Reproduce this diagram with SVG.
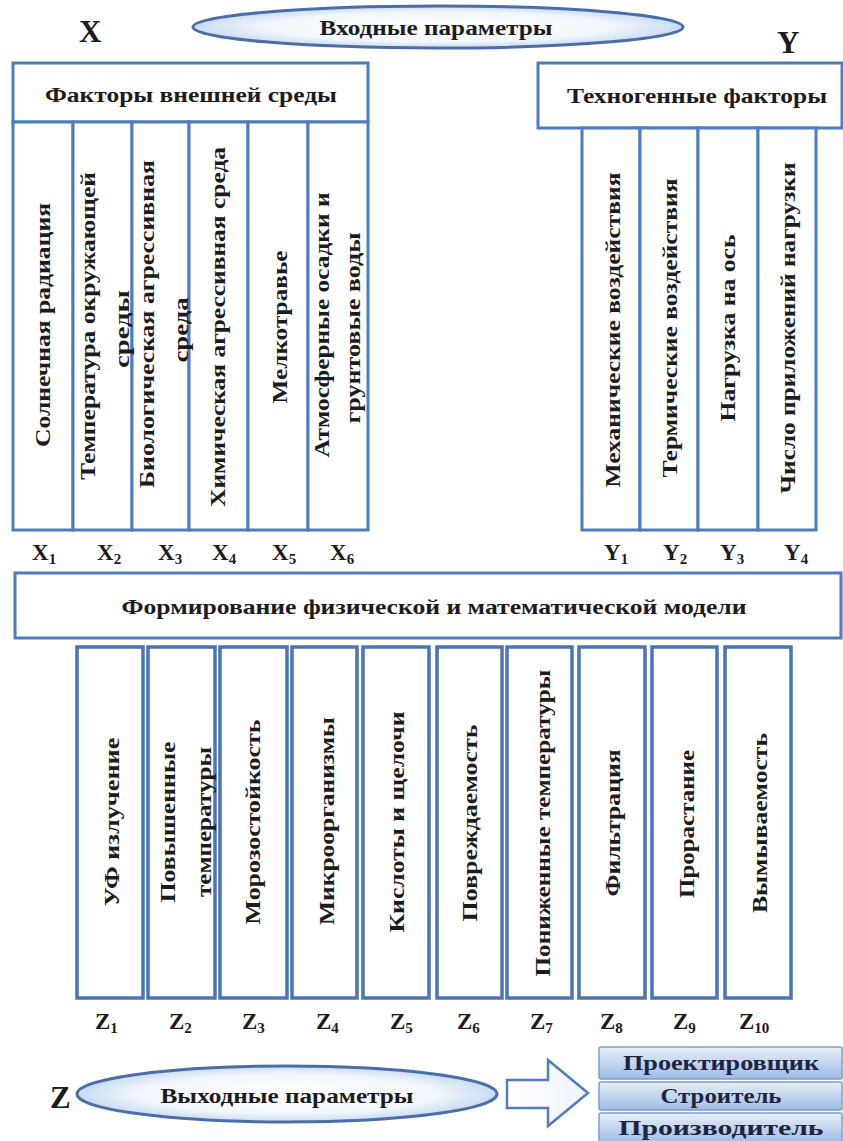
<svg xmlns="http://www.w3.org/2000/svg" width="843" height="1141" viewBox="0 0 843 1141">
<defs>
<style>
.box{fill:#ffffff;stroke:#4f7bbf;stroke-width:3}
.zb{fill:#ffffff;stroke:#4a74b4;stroke-width:3.5}
.t{font-family:"Liberation Serif","Times New Roman","DejaVu Serif",serif;font-weight:bold;fill:#1c1c1c}
.lat{font-family:"Liberation Serif","Times New Roman",serif;font-weight:bold;fill:#1c1c1c}
.v{font-size:20px;text-anchor:middle}
.h{font-size:21px;text-anchor:middle}
.lbl{font-size:23px}
.sub{font-size:15px}
.big{font-size:31px}
.ell{fill:url(#eg);stroke:#4a6fa8;stroke-width:3}
.role{fill:url(#bg);stroke:#7e9dcb;stroke-width:1.5}
.rt{font-size:21px;text-anchor:middle;fill:#1d2540}
</style>
<radialGradient id="eg" cx="50%" cy="50%" r="50%">
<stop offset="0" stop-color="#ffffff"/>
<stop offset="0.7" stop-color="#f2f7fd"/>
<stop offset="1" stop-color="#c9dbf2"/>
</radialGradient>
<linearGradient id="bg" x1="0" y1="0" x2="0" y2="1">
<stop offset="0" stop-color="#e8eff9"/>
<stop offset="1" stop-color="#9fbbe4"/>
</linearGradient>
<linearGradient id="ag" x1="0" y1="0" x2="1" y2="0">
<stop offset="0" stop-color="#ffffff"/>
<stop offset="1" stop-color="#eef3fb"/>
</linearGradient>
</defs>
<rect width="843" height="1141" fill="#ffffff"/>

<!-- Top: input parameters -->
<g id="input-params">
<text class="lat big" x="79" y="42">X</text>
<text class="lat big" x="777" y="53">Y</text>
<ellipse class="ell" cx="438" cy="27" rx="245" ry="21"/>
<text class="t" x="436" y="35" font-size="20" text-anchor="middle" textLength="233" lengthAdjust="spacingAndGlyphs">Входные параметры</text>
</g>

<!-- Environmental factors -->
<g id="env-factors">
<rect class="box" x="13" y="63" width="355" height="59"/>
<text class="t h" x="191" y="102" textLength="292" lengthAdjust="spacingAndGlyphs">Факторы внешней среды</text>
<rect class="box" x="13" y="122" width="60" height="408"/>
<rect class="box" x="73" y="122" width="59" height="408"/>
<rect class="box" x="132" y="122" width="57" height="408"/>
<rect class="box" x="189" y="122" width="59" height="408"/>
<rect class="box" x="248" y="122" width="60" height="408"/>
<rect class="box" x="308" y="122" width="60" height="408"/>
<g class="t v">
<text transform="translate(43,325) rotate(-90)" y="7" textLength="244" lengthAdjust="spacingAndGlyphs">Солнечная радиация</text>
<text transform="translate(88,326) rotate(-90)" y="7" textLength="308" lengthAdjust="spacingAndGlyphs">Температура  окружающей</text>
<text transform="translate(122,329) rotate(-90)" y="7" textLength="78" lengthAdjust="spacingAndGlyphs">среды</text>
<text transform="translate(147,324) rotate(-90)" y="7" textLength="328" lengthAdjust="spacingAndGlyphs">Биологическая агрессивная</text>
<text transform="translate(181,330) rotate(-90)" y="7" textLength="65" lengthAdjust="spacingAndGlyphs">среда</text>
<text transform="translate(218,327) rotate(-90)" y="7" textLength="360" lengthAdjust="spacingAndGlyphs">Химическая агрессивная среда</text>
<text transform="translate(280,327) rotate(-90)" y="7" textLength="153" lengthAdjust="spacingAndGlyphs">Мелкотравье</text>
<text transform="translate(322,325) rotate(-90)" y="7" textLength="265" lengthAdjust="spacingAndGlyphs">Атмосферные осадки и</text>
<text transform="translate(353,328) rotate(-90)" y="7" textLength="191" lengthAdjust="spacingAndGlyphs">грунтовые воды</text>
</g>
<g class="lat lbl">
<text x="32" y="560">X<tspan class="sub" dy="4">1</tspan></text>
<text x="97" y="560">X<tspan class="sub" dy="4">2</tspan></text>
<text x="158" y="560">X<tspan class="sub" dy="4">3</tspan></text>
<text x="212" y="560">X<tspan class="sub" dy="4">4</tspan></text>
<text x="272" y="560">X<tspan class="sub" dy="4">5</tspan></text>
<text x="330" y="560">X<tspan class="sub" dy="4">6</tspan></text>
</g>
</g>

<!-- Technogenic factors -->
<g id="tech-factors">
<rect class="box" x="538" y="63" width="304" height="65"/>
<text class="t h" x="697" y="103" textLength="260" lengthAdjust="spacingAndGlyphs">Техногенные факторы</text>
<rect class="box" x="582" y="128" width="58" height="402"/>
<rect class="box" x="640" y="128" width="58" height="402"/>
<rect class="box" x="698" y="128" width="60" height="402"/>
<rect class="box" x="758" y="128" width="58" height="402"/>
<g class="t v">
<text transform="translate(613,330) rotate(-90)" y="7" textLength="315" lengthAdjust="spacingAndGlyphs">Механические воздействия</text>
<text transform="translate(670,328) rotate(-90)" y="7" textLength="299" lengthAdjust="spacingAndGlyphs">Термические воздействия</text>
<text transform="translate(728,328) rotate(-90)" y="7" textLength="187" lengthAdjust="spacingAndGlyphs">Нагрузка на ось</text>
<text transform="translate(788,328) rotate(-90)" y="7" textLength="331" lengthAdjust="spacingAndGlyphs">Число приложений нагрузки</text>
</g>
<g class="lat lbl">
<text x="604" y="560">Y<tspan class="sub" dy="4">1</tspan></text>
<text x="663" y="560">Y<tspan class="sub" dy="4">2</tspan></text>
<text x="720" y="560">Y<tspan class="sub" dy="4">3</tspan></text>
<text x="784" y="560">Y<tspan class="sub" dy="4">4</tspan></text>
</g>
</g>

<!-- Model -->
<g id="model">
<rect class="box" x="15" y="573" width="826" height="65"/>
<text class="t h" x="434" y="614" textLength="625" lengthAdjust="spacingAndGlyphs">Формирование физической и математической модели</text>
</g>

<!-- Output columns -->
<g id="outputs">
<rect class="zb" x="77" y="647" width="66" height="351"/>
<rect class="zb" x="148" y="647" width="67" height="351"/>
<rect class="zb" x="220" y="647" width="67" height="351"/>
<rect class="zb" x="292" y="647" width="65" height="351"/>
<rect class="zb" x="363" y="647" width="66" height="351"/>
<rect class="zb" x="437" y="647" width="65" height="351"/>
<rect class="zb" x="507" y="647" width="65" height="351"/>
<rect class="zb" x="579" y="647" width="66" height="351"/>
<rect class="zb" x="652" y="647" width="65" height="351"/>
<rect class="zb" x="725" y="647" width="66" height="351"/>
<g class="t v">
<text transform="translate(112,822) rotate(-90)" y="7" textLength="169" lengthAdjust="spacingAndGlyphs">УФ излучение</text>
<text transform="translate(168,822) rotate(-90)" y="7" textLength="161" lengthAdjust="spacingAndGlyphs">Повышенные</text>
<text transform="translate(204,822) rotate(-90)" y="7" textLength="150" lengthAdjust="spacingAndGlyphs">температуры</text>
<text transform="translate(253,822) rotate(-90)" y="7" textLength="205" lengthAdjust="spacingAndGlyphs">Морозостойкость</text>
<text transform="translate(327,821) rotate(-90)" y="7" textLength="208" lengthAdjust="spacingAndGlyphs">Микроорганизмы</text>
<text transform="translate(397,822) rotate(-90)" y="7" textLength="221" lengthAdjust="spacingAndGlyphs">Кислоты и щелочи</text>
<text transform="translate(470,823) rotate(-90)" y="7" textLength="197" lengthAdjust="spacingAndGlyphs">Повреждаемость</text>
<text transform="translate(543,823) rotate(-90)" y="7" textLength="307" lengthAdjust="spacingAndGlyphs">Пониженные температуры</text>
<text transform="translate(613,823) rotate(-90)" y="7" textLength="147" lengthAdjust="spacingAndGlyphs">Фильтрация</text>
<text transform="translate(687,824) rotate(-90)" y="7" textLength="148" lengthAdjust="spacingAndGlyphs">Прорастание</text>
<text transform="translate(760,823) rotate(-90)" y="7" textLength="180" lengthAdjust="spacingAndGlyphs">Вымываемость</text>
</g>
<g class="lat lbl">
<text x="95" y="1029">Z<tspan class="sub" dy="4">1</tspan></text>
<text x="169" y="1029">Z<tspan class="sub" dy="4">2</tspan></text>
<text x="242" y="1029">Z<tspan class="sub" dy="4">3</tspan></text>
<text x="316" y="1029">Z<tspan class="sub" dy="4">4</tspan></text>
<text x="390" y="1029">Z<tspan class="sub" dy="4">5</tspan></text>
<text x="457" y="1029">Z<tspan class="sub" dy="4">6</tspan></text>
<text x="530" y="1029">Z<tspan class="sub" dy="4">7</tspan></text>
<text x="600" y="1029">Z<tspan class="sub" dy="4">8</tspan></text>
<text x="673" y="1029">Z<tspan class="sub" dy="4">9</tspan></text>
<text x="739" y="1029">Z<tspan class="sub" dy="4">10</tspan></text>
</g>
</g>

<!-- Output parameters -->
<g id="output-params">
<text class="lat big" x="50" y="1108">Z</text>
<ellipse class="ell" cx="287" cy="1094" rx="210" ry="28"/>
<text class="t h" x="287" y="1103" textLength="253" lengthAdjust="spacingAndGlyphs">Выходные параметры</text>
</g>

<g id="connectors">
<path d="M507,1080 L548,1080 L548,1060 L588,1093 L548,1126 L548,1108 L507,1108 Z" fill="url(#ag)" stroke="#4f7bbf" stroke-width="2.5" stroke-linejoin="miter"/>
</g>

<g id="role-designer">
<rect class="role" x="599" y="1047" width="243" height="32" rx="2"/>
<text class="t rt" x="721" y="1070" textLength="196" lengthAdjust="spacingAndGlyphs">Проектировщик</text>
</g>
<g id="role-builder">
<rect class="role" x="599" y="1082" width="243" height="28" rx="2"/>
<text class="t rt" x="721" y="1103" textLength="121" lengthAdjust="spacingAndGlyphs">Строитель</text>
</g>
<g id="role-manufacturer">
<rect class="role" x="599" y="1113" width="243" height="30" rx="2"/>
<text class="t rt" x="721" y="1135" textLength="205" lengthAdjust="spacingAndGlyphs">Производитель</text>
</g>
</svg>
